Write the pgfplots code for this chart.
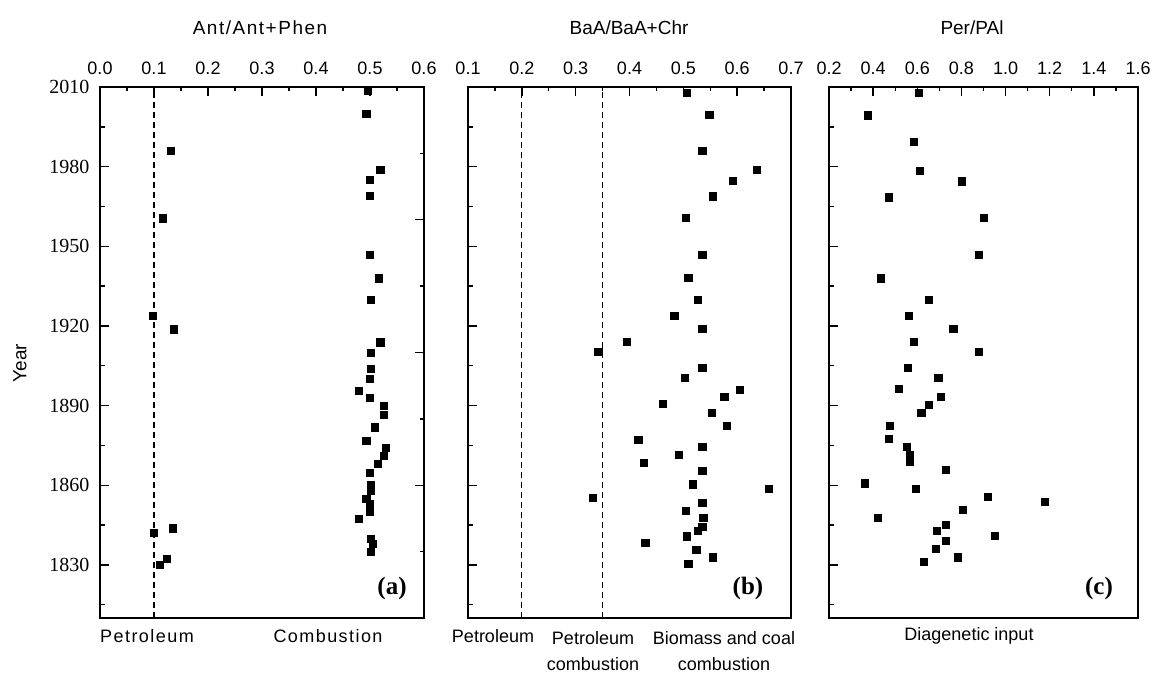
\documentclass[border=0pt]{standalone}
\usepackage{fontspec}
\setmainfont{Liberation Sans}
\newfontfamily\serifnum{Liberation Serif}
\newfontfamily\spaced[LetterSpace=8]{Liberation Sans}
\usepackage{pgfplots}
\pgfplotsset{compat=1.18}

\pgfplotsset{
  panel/.style={
    scale only axis, height=531bp,
    ymin=1810, ymax=2010,
    axis line style={line width=1.6bp},
    tick align=inside, major tick length=9bp, minor tick length=4.5bp,
    every tick/.style={line width=1.4bp, black},
    xtick pos=upper, xticklabel pos=upper,
    ytick pos=left,
    ytick={1830,1860,1890,1920,1950,1980,2010},
    minor ytick={1815,1845,1875,1905,1935,1965,1995},
    minor x tick num=1,
    xticklabel style={font=\fontsize{18bp}{20bp}\selectfont, yshift=9bp},
    yticklabel style={font=\serifnum\fontsize{20bp}{22bp}\selectfont, xshift=-7bp},
    clip=false,
  },
  pts/.style={only marks, mark=square*, mark size=3.6bp, black},
  ref/.style={black, line width=1.3bp, dash pattern=on 6bp off 4bp},
}

\begin{document}
\begin{tikzpicture}[x=1bp,y=1bp]
\useasboundingbox (0bp,0bp) rectangle (1151bp,673bp);

% (a) Ant/Ant+Phen
\begin{axis}[panel, at={(100bp,55bp)}, anchor=south west, width=324bp,
  xmin=0, xmax=0.6,
  xtick={0,0.1,0.2,0.3,0.4,0.5,0.6},
  xticklabels={0.0,0.1,0.2,0.3,0.4,0.5,0.6},
  yticklabels={1830,1860,1890,1920,1950,1980,2010}]
\addplot[ref] coordinates {(0.1,1810) (0.1,2010)};
\addplot[pts] coordinates {
 (0.496,2008.5) (0.493,1999.8) (0.131,1986.0) (0.519,1978.8) (0.499,1975.0)
 (0.499,1969.0) (0.116,1960.6) (0.499,1946.9) (0.516,1938.0) (0.502,1929.8)
 (0.097,1923.8) (0.137,1918.8) (0.519,1913.9) (0.502,1909.9) (0.502,1903.9)
 (0.499,1900.1) (0.479,1895.6) (0.499,1893.0) (0.526,1890.0) (0.526,1886.7)
 (0.508,1881.9) (0.493,1876.9) (0.529,1874.0) (0.526,1871.0) (0.514,1868.1)
 (0.499,1864.8) (0.502,1860.0) (0.502,1858.1) (0.493,1855.0) (0.499,1852.9)
 (0.499,1850.0) (0.479,1847.3) (0.134,1843.8) (0.100,1842.1) (0.502,1840.0)
 (0.505,1837.9) (0.502,1835.0) (0.123,1832.3) (0.111,1830.0)
};
\end{axis}
% right-hand ticks of (a)
\begin{axis}[at={(100bp,55bp)}, anchor=south west, scale only axis,
  width=324bp, height=531bp, xmin=0, xmax=0.6, ymin=1810, ymax=2010,
  hide x axis, axis y line*=right,
  axis line style={line width=1.6bp},
  tick align=inside, major tick length=9bp, minor tick length=4.5bp,
  every tick/.style={line width=1.4bp, black},
  ytick={1860,1910,1960}, minor ytick={1835,1885,1935,1985},
  yticklabels={}]
\addplot[draw=none] coordinates {(0.3,1900)};
\end{axis}

% (b) BaA/BaA+Chr
\begin{axis}[panel, at={(468bp,55bp)}, anchor=south west, width=323bp,
  xmin=0.1, xmax=0.7,
  xtick={0.1,0.2,0.3,0.4,0.5,0.6,0.7},
  xticklabels={0.1,0.2,0.3,0.4,0.5,0.6,0.7},
  yticklabels={}]
\addplot[ref] coordinates {(0.2,1810) (0.2,2010)};
\addplot[ref] coordinates {(0.35,1810) (0.35,2010)};
\addplot[pts] coordinates {
 (0.506,2008.0) (0.548,1999.6) (0.535,1985.9) (0.636,1978.8) (0.591,1974.8)
 (0.555,1968.9) (0.504,1960.8) (0.535,1946.9) (0.509,1938.3) (0.527,1930.0)
 (0.483,1924.0) (0.535,1919.0) (0.395,1914.1) (0.342,1910.4) (0.535,1904.3)
 (0.502,1900.4) (0.604,1896.0) (0.576,1893.4) (0.461,1890.6) (0.553,1887.3)
 (0.581,1882.5) (0.416,1877.3) (0.535,1874.6) (0.492,1871.4) (0.426,1868.6)
 (0.535,1865.4) (0.517,1860.4) (0.659,1858.8) (0.332,1855.4) (0.535,1853.4)
 (0.504,1850.5) (0.537,1847.8) (0.535,1844.4) (0.527,1842.9) (0.506,1840.8)
 (0.429,1838.4) (0.524,1835.6) (0.555,1832.9) (0.509,1830.6)
};
\end{axis}

% (c) Per/PAl
\begin{axis}[panel, at={(829bp,55bp)}, anchor=south west, width=309bp,
  xmin=0.2, xmax=1.6,
  xtick={0.2,0.4,0.6,0.8,1.0,1.2,1.4,1.6},
  xticklabels={0.2,0.4,0.6,0.8,1.0,1.2,1.4,1.6},
  yticklabels={}]
\addplot[pts] coordinates {
 (0.605,2008.0) (0.374,1999.4) (0.582,1989.4) (0.611,1978.4) (0.801,1974.5)
 (0.469,1968.5) (0.900,1960.8) (0.878,1946.9) (0.433,1938.0) (0.650,1930.0)
 (0.561,1924.0) (0.763,1919.1) (0.582,1914.1) (0.879,1910.4) (0.555,1904.3)
 (0.695,1900.4) (0.516,1896.3) (0.707,1893.4) (0.653,1890.4) (0.618,1887.3)
 (0.475,1882.5) (0.471,1877.6) (0.551,1874.6) (0.567,1871.6) (0.567,1868.8)
 (0.728,1865.9) (0.362,1860.8) (0.594,1858.8) (0.920,1855.6) (1.178,1853.9)
 (0.807,1850.9) (0.422,1847.9) (0.730,1845.0) (0.688,1843.0) (0.949,1841.0)
 (0.730,1839.0) (0.685,1836.1) (0.782,1832.9) (0.628,1831.1)
};
\end{axis}

% titles
\node[font=\spaced\fontsize{19bp}{21bp}\selectfont] at (260bp,645bp) {Ant/Ant+Phen};
\node[font=\fontsize{19bp}{21bp}\selectfont] at (629bp,645bp) {BaA/BaA+Chr};
\node[font=\fontsize{19bp}{21bp}\selectfont] at (972bp,645bp) {Per/PAl};
% y label
\node[font=\fontsize{19bp}{21bp}\selectfont, rotate=90] at (20bp,310bp) {Year};
% panel letters
\node[font=\serifnum\bfseries\fontsize{25bp}{27bp}\selectfont] at (392bp,85bp) {(a)};
\node[font=\serifnum\bfseries\fontsize{25bp}{27bp}\selectfont] at (748bp,85bp) {(b)};
\node[font=\serifnum\bfseries\fontsize{25bp}{27bp}\selectfont] at (1099bp,85bp) {(c)};
% source labels
\node[font=\spaced\fontsize{18bp}{20bp}\selectfont] at (147bp,37bp) {Petroleum};
\node[font=\spaced\fontsize{18bp}{20bp}\selectfont] at (328bp,37bp) {Combustion};
\node[font=\fontsize{18bp}{20bp}\selectfont] at (493bp,37bp) {Petroleum};
\node[font=\fontsize{18bp}{20bp}\selectfont, align=center, anchor=north] at (593bp,45bp) {Petroleum\\[6bp]combustion};
\node[font=\fontsize{18bp}{20bp}\selectfont, align=center, anchor=north] at (724bp,45bp) {Biomass and coal\\[6bp]combustion};
\node[font=\fontsize{18bp}{20bp}\selectfont] at (969bp,37bp) {Diagenetic input};
\end{tikzpicture}
\end{document}
